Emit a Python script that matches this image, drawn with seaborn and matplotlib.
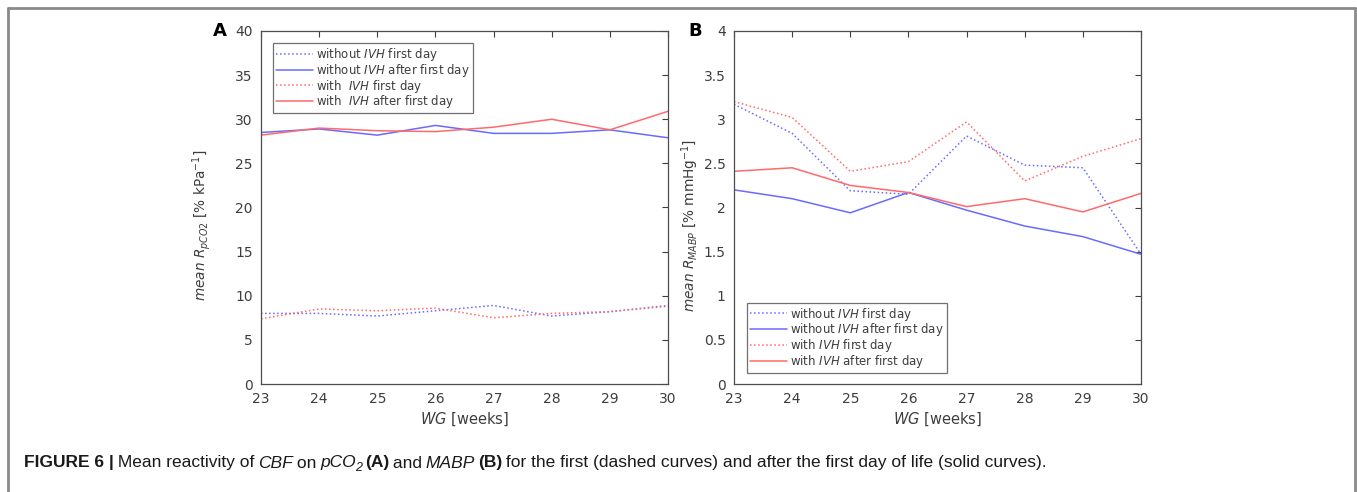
import numpy as np
import pandas as pd
import matplotlib
matplotlib.use('Agg')
import matplotlib.pyplot as plt
import seaborn as sns
from matplotlib.lines import Line2D
from matplotlib.ticker import FormatStrFormatter

weeks = [23, 24, 25, 26, 27, 28, 29, 30]

# panel A: mean R_pCO2
a_without_first = [8.0, 8.0, 7.7, 8.3, 8.9, 7.7, 8.2, 8.9]
a_without_after = [28.5, 28.9, 28.2, 29.3, 28.4, 28.4, 28.8, 27.9]
a_with_first = [7.4, 8.5, 8.3, 8.6, 7.5, 8.0, 8.2, 8.8]
a_with_after = [28.2, 29.0, 28.7, 28.6, 29.1, 30.0, 28.8, 30.9]

# panel B: mean R_MABP
b_without_first = [3.17, 2.84, 2.19, 2.15, 2.81, 2.48, 2.45, 1.47]
b_without_after = [2.20, 2.10, 1.94, 2.17, 1.97, 1.79, 1.67, 1.47]
b_with_first = [3.20, 3.02, 2.41, 2.52, 2.97, 2.30, 2.58, 2.78]
b_with_after = [2.41, 2.45, 2.25, 2.17, 2.01, 2.10, 1.95, 2.16]

labels_a = [r'without $\mathit{IVH}$ first day', r'without $\mathit{IVH}$ after first day',
            r'with  $\mathit{IVH}$ first day', r'with  $\mathit{IVH}$ after first day']
labels_b = [r'without $\mathit{IVH}$ first day', r'without $\mathit{IVH}$ after first day',
            r'with $\mathit{IVH}$ first day', r'with $\mathit{IVH}$ after first day']

blue = '#6a6aff'
red = '#ff6a6a'
styles = [(blue, ':'), (blue, '-'), (red, ':'), (red, '-')]
tick_col = '#3d3d3d'

sns.set_theme(style='white')
plt.rcParams['font.family'] = ['DejaVu Sans']

fig = plt.figure(figsize=(13.57, 4.92), dpi=100)
ax_a = fig.add_axes([261 / 1357, 1 - 384 / 492, 407 / 1357, 353 / 492])
ax_b = fig.add_axes([734 / 1357, 1 - 384 / 492, 407 / 1357, 353 / 492])


def draw_panel(ax, series, labels, ylim, ystep, ylabel, label_x, legend_loc, legend_anchor):
    for vals, (col, ls), lab in zip(series, styles, labels):
        df = pd.DataFrame({'WG': weeks, 'R': vals})
        sns.lineplot(data=df, x='WG', y='R', ax=ax, color=col, linestyle=ls,
                     linewidth=1.1, label=lab)
    ax.set_xlim(23, 30)
    ax.set_ylim(*ylim)
    ax.set_xticks(weeks)
    ax.set_yticks(np.arange(ylim[0], ylim[1] + ystep / 2, ystep))
    ax.yaxis.set_major_formatter(FormatStrFormatter('%g'))
    ax.tick_params(direction='in', length=4, width=0.8, top=True, right=True,
                   labelsize=10, colors=tick_col, pad=6)
    for s in ax.spines.values():
        s.set_color('#4d4d4d')
        s.set_linewidth(0.9)
    ax.set_xlabel(r'$\mathit{WG}$ [weeks]', fontsize=10.5, color=tick_col, labelpad=3)
    ax.set_ylabel(ylabel, fontsize=9.8, color=tick_col)
    ax.yaxis.set_label_coords(label_x, 0.45)
    leg = ax.legend(loc=legend_loc, bbox_to_anchor=legend_anchor, fontsize=8.5,
                    frameon=True, fancybox=False, handlelength=3.1,
                    labelspacing=-0.1, borderpad=0.25, handletextpad=0.3,
                    borderaxespad=0)
    leg.get_frame().set_edgecolor('#4d4d4d')
    leg.get_frame().set_linewidth(0.9)
    for t in leg.get_texts():
        t.set_color(tick_col)


draw_panel(ax_a, [a_without_first, a_without_after, a_with_first, a_with_after],
           labels_a, (0, 40), 5,
           r'$\mathit{mean\ R_{pCO2}}$ [% kPa$^{-1}$]', -0.118, 'upper left',
           (12 / 407, 1 - 12 / 353))
draw_panel(ax_b, [b_without_first, b_without_after, b_with_first, b_with_after],
           labels_b, (0, 4), 0.5,
           r'$\mathit{mean\ R_{MABP}}$ [% mmHg$^{-1}$]', -0.08, 'lower left',
           (13 / 407, 11 / 353))

fig.text(213 / 1357, 1 - 31 / 492, 'A', fontsize=13, fontweight='bold',
         ha='left', va='center', color='black')
fig.text(688 / 1357, 1 - 31 / 492, 'B', fontsize=13, fontweight='bold',
         ha='left', va='center', color='black')

# outer frame
frame_col = '#8a8a8a'
fig.add_artist(Line2D([8 / 1357, 8 / 1357], [0, 1 - 8 / 492], color=frame_col, lw=2))
fig.add_artist(Line2D([8 / 1357, 1355 / 1357], [1 - 8 / 492, 1 - 8 / 492], color=frame_col, lw=2))
fig.add_artist(Line2D([1355 / 1357, 1355 / 1357], [0, 1 - 8 / 492], color=frame_col, lw=2))

# caption with mixed styles
cap_font = ['Liberation Sans', 'DejaVu Sans']
pieces = [
    ('FIGURE 6 |', dict(fontweight='bold')),
    (' Mean reactivity of ', {}),
    ('CBF', dict(style='italic')),
    (' on ', {}),
    ('pCO', dict(style='italic')),
    ('2', dict(style='italic', sub=True)),
    (' ', {}),
    ('(A)', dict(fontweight='bold')),
    (' and ', {}),
    ('MABP', dict(style='italic')),
    (' ', {}),
    ('(B)', dict(fontweight='bold')),
    (' for the first (dashed curves) and after the first day of life (solid curves).', {}),
]
renderer = fig.canvas.get_renderer()
x = 24 / 1357
y = 1 - 463 / 492
for txt, kw in pieces:
    kw = dict(kw)
    sub = kw.pop('sub', False)
    size = 9 if sub else 12.5
    yy = y - 5 / 492 if sub else y
    t = fig.text(x, yy, txt, fontsize=size, family=cap_font, color='#1a1a1a',
                 ha='left', va='center', **kw)
    bb = t.get_window_extent(renderer)
    x += (bb.width - 1) / fig.bbox.width

fig.savefig('out.png', dpi=100)
